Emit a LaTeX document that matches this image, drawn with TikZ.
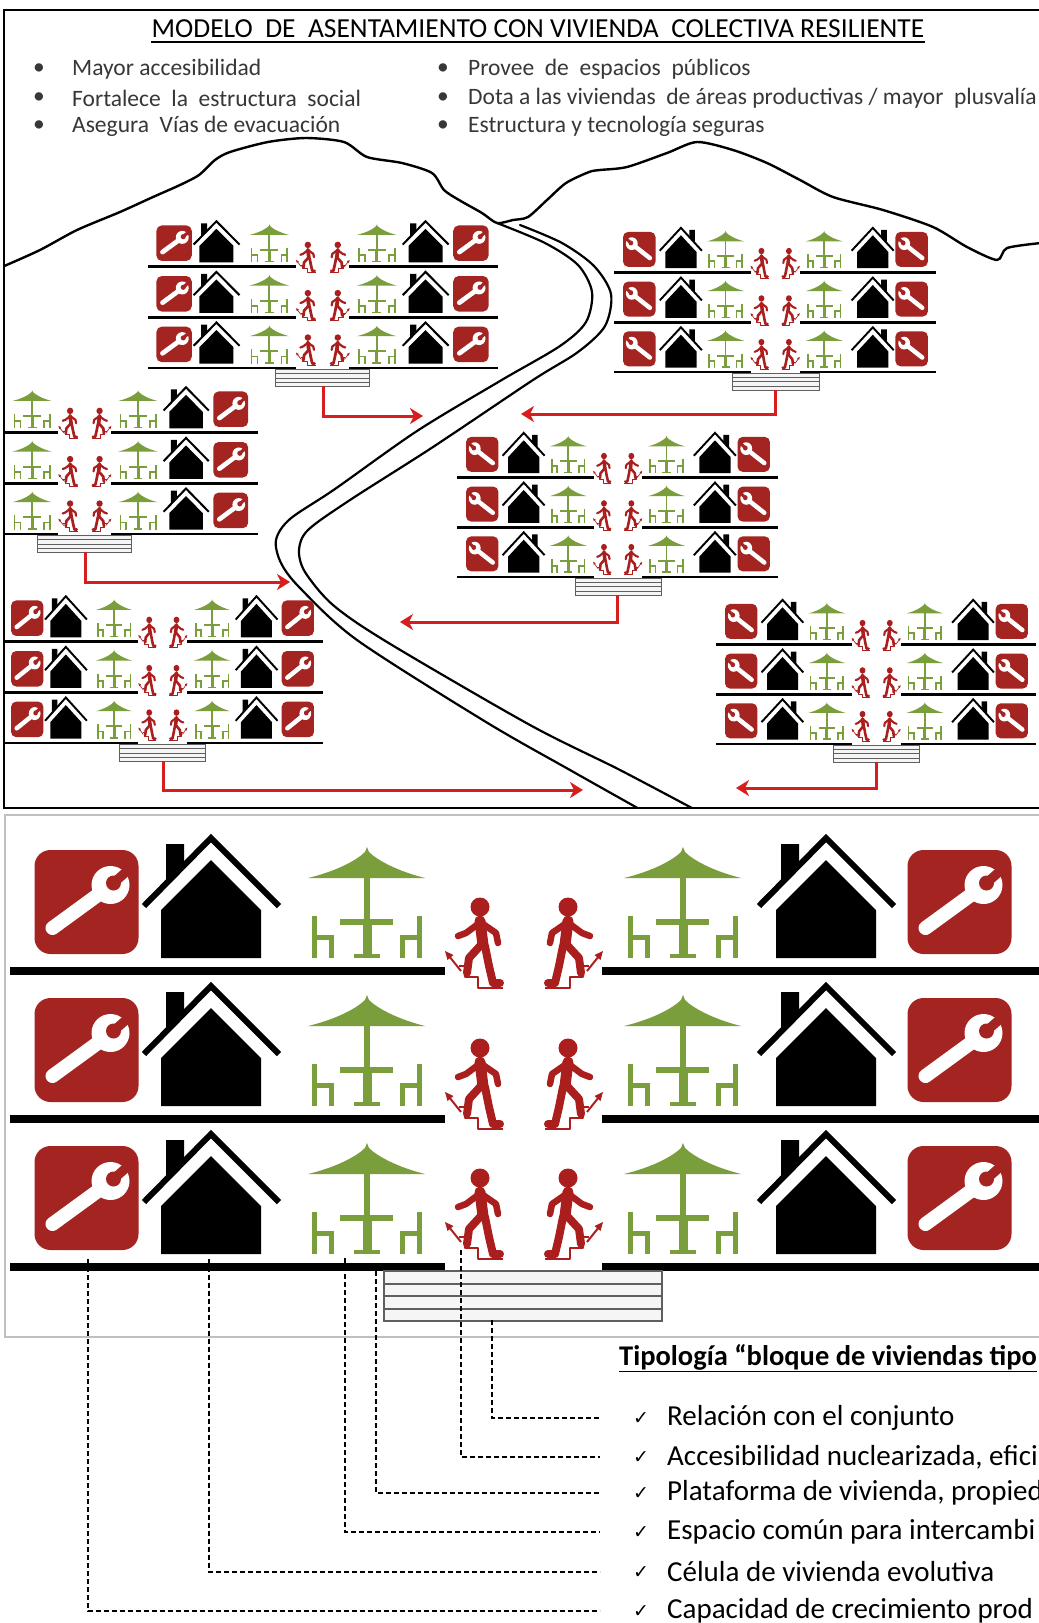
\documentclass[tikz,border=0pt]{standalone}
\usepackage{fontspec}
\setmainfont{Carlito}
\newfontfamily\symfont{DejaVu Sans}
\usetikzlibrary{arrows.meta,calc}

\definecolor{wrenchred}{RGB}{163,36,32}
\definecolor{leafgreen}{RGB}{122,158,60}
\definecolor{walkred}{RGB}{170,30,30}
\definecolor{arrowred}{RGB}{214,30,30}
\definecolor{panelgray}{RGB}{192,192,192}
\definecolor{inkgray}{RGB}{55,55,55}
\definecolor{stairgray}{RGB}{95,95,95}

% stroke scale of the block being drawn
\def\bsc{1}
\tikzset{
  lw/.style={line width=\bsc*#1pt},
  redarrow/.style={draw=arrowred, line width=3pt, -{Stealth[length=13pt,width=16pt,inset=4pt]}},
  leader/.style={draw=black, line width=1.3pt, dash pattern=on 5pt off 3pt},
  bullettext/.style={anchor=west, inner sep=0pt, text=inkgray, font=\fontsize{23.5}{28}\selectfont},
  listtext/.style={anchor=west, inner sep=0pt, font=\fontsize{29}{34}\selectfont},
  checkmark/.style={anchor=west, inner sep=0pt, font=\symfont\fontsize{19}{22}\selectfont},
  ridge/.style={draw=black, line width=2.4pt, line join=round, line cap=round},
  roadedge/.style={draw=black, line width=2.2pt, line cap=round},
}

% workshop badge, centred on the origin
\newcommand\wrenchicon{%
  \fill[wrenchred, rounded corners=\bsc*16pt] (-52,-52) rectangle (52,52);
  \draw[white, lw=14, line cap=round] (-34,26) -- (14,-9);
  \fill[white] (24,-17) circle (19);
  \fill[wrenchred] (27,-19) circle (7.5);
  \fill[wrenchred] (30.1,-15.5) -- (23.9,-22.5) -- (43.4,-39.7) -- (49.6,-32.7) -- cycle;
}
% dwelling, origin under the ridge on the floor
\newcommand\houseicon{%
  \fill (-50,-13) -- (-50,-61) -- (0,-111) -- (50,-61) -- (50,-13) -- cycle;
  \fill (-45,-127) -- (-27,-127) -- (-27,-104) -- (-45,-86) -- cycle;
  \draw[lw=6, line join=miter] (-67,-65) -- (0,-133) -- (68,-65);
}
% terrace with parasol, table and two chairs
\newcommand\umbrellaicon{%
  \fill[leafgreen] (-59,-93) .. controls (-30,-100) and (-10,-111) .. (-2,-119)
     -- (0,-124) -- (2,-119) .. controls (10,-111) and (30,-100) .. (58,-93) -- cycle;
  \fill[leafgreen] (-3,-95) rectangle (3,-50);
  \fill[leafgreen] (-27,-52) rectangle (26,-46);
  \fill[leafgreen] (-4.5,-46) rectangle (4.5,-15);
  \fill[leafgreen] (-13,-17) rectangle (13,-13);
  \fill[leafgreen] (-55,-55) rectangle (-50,-13);
  \fill[leafgreen] (-55,-36) rectangle (-33,-31);
  \fill[leafgreen] (-38,-36) rectangle (-33,-13);
  \fill[leafgreen] (50,-55) rectangle (55,-13);
  \fill[leafgreen] (33,-36) rectangle (55,-31);
  \fill[leafgreen] (33,-36) rectangle (38,-13);
}
% person climbing a stair, origin at the foot of the stair
\newcommand\walkericon{%
  \fill[walkred] (0,-81) circle (9.5);
  \draw[walkred, lw=11, line cap=round] (0,-67) -- (3,-43);
  \draw[walkred, lw=6.5, line cap=round, line join=round] (-2,-64) -- (-14,-55) -- (-22,-52);
  \draw[walkred, lw=6.5, line cap=round, line join=round] (3,-64) -- (16,-55) -- (18,-45);
  \draw[walkred, lw=8, line cap=round, line join=round] (0,-42) -- (-11,-30) -- (-13,-15);
  \draw[walkred, lw=8, line cap=round, line join=round] (5,-42) -- (9,-22) -- (13,-5) -- (20,-5);
  \draw[walkred, lw=2, line join=round] (23,0) -- (-2,0) -- (-2,-11) -- (-15,-11) -- (-15,-22) -- (-21,-22);
  \draw[walkred, lw=2] (-19,-17) -- (-31,-32);
  \fill[walkred] (-35,-37) -- (-26.5,-33) -- (-32.5,-28) -- cycle;
}
% stair pad below the lowest floor
\newcommand\stairpad{%
  \filldraw[fill=gray!8, draw=stairgray, lw=2] (-141,4) rectangle (137,54);
  \foreach \sy in {16.5,29,41.5} \draw[stairgray, lw=2] (-141,\sy) -- (137,\sy);
}
% three-storey block: #1,#2 centre on the lowest floor, #3,#4 scales,
% #5 stroke scale, #6 name of the outlet under the stair pad
\newcommand\housingblock[6]{%
  \begin{scope}[shift={(#1,#2)}, xscale=#3, yscale=#4]
    \def\bsc{#5}%
    \foreach \fy/\wy in {-296/17,-148/10,0/-8}{%
      \begin{scope}[shift={(0,\fy)}]
        \fill (-515,-4) rectangle (-80,4);
        \fill (77,-4) rectangle (516,4);
        \begin{scope}[shift={(-438,-69)}]\wrenchicon\end{scope}
        \begin{scope}[shift={(435,-69)}]\wrenchicon\end{scope}
        \begin{scope}[shift={(-313.5,0)}]\houseicon\end{scope}
        \begin{scope}[shift={(301.5,0)}]\houseicon\end{scope}
        \begin{scope}[shift={(-157.5,0)}]\umbrellaicon\end{scope}
        \begin{scope}[shift={(158.5,0)}]\umbrellaicon\end{scope}
        \begin{scope}[shift={(-44.5,\wy)}]\walkericon\end{scope}
        \begin{scope}[shift={(43.5,\wy)}, xscale=-1]\walkericon\end{scope}
      \end{scope}}
    \stairpad
    \coordinate (#6) at (0,54);
  \end{scope}}

\begin{document}
\begin{tikzpicture}[x=1pt, y=-1pt]
\useasboundingbox (0,0) rectangle (1039,1623);
\clip (0,0) rectangle (1039,1623);
\fill[white] (0,0) rectangle (1039,1623);

%% ---------- settlement plan ----------
\begin{scope}
  \clip (4,10) rectangle (1039,808);
  % hills
  \draw[ridge] plot[smooth, tension=0.45] coordinates {
    (2,267) (40,250) (77,230) (120,212) (153,197) (180,185) (199,175) (215,160)
    (230,152) (268,142) (306,138) (344,142) (367,157) (402,163) (432,173)
    (444,190) (459,200) (482,213) (497,223) (513,220) (528,217) (547,200)
    (566,183) (589,172) (600,170) (627,167) (667,153) (697,142) (733,150)
    (767,163) (800,180) (833,197) (883,210) (933,227) (967,247) (997,260)
    (1007,248) (1041,243)};
  % winding road
  \draw[roadedge] plot[smooth, tension=0.5] coordinates {
    (497,223) (545,243) (578,265) (592,292) (586,322) (560,346) (500,381)
    (417,431) (335,489) (290,519) (276,540) (281,563) (300,588) (357,640)
    (486,722) (570,770) (650,815)};
  \draw[roadedge] plot[smooth, tension=0.5] coordinates {
    (520,225) (562,243) (594,266) (611,294) (605,326) (578,352) (533,380)
    (433,447) (350,500) (308,530) (299,550) (305,572) (333,605) (387,642)
    (530,725) (620,770) (705,815)};

  \housingblock{323}{368}{0.34}{0.342}{0.34}{tl-out}
  \housingblock{775}{372}{-0.312}{0.336}{0.32}{tr-out}
  \housingblock{85}{534}{0.335}{0.342}{0.335}{lm-out}
  \housingblock{617.5}{577}{-0.311}{0.336}{0.32}{cm-out}
  \housingblock{163}{743}{0.31}{0.342}{0.32}{bl-out}
  \housingblock{876}{744}{-0.31}{0.336}{0.32}{br-out}

  % evacuation links towards the road
  \coordinate (tl-in) at (423,416);
  \coordinate (tr-in) at (521,414);
  \coordinate (lm-in) at (290,582);
  \coordinate (cm-in) at (400,622);
  \coordinate (bl-in) at (583,790);
  \coordinate (br-in) at (736,788);
  \draw[redarrow] (tl-out) |- (tl-in);
  \draw[redarrow] (tr-out) |- (tr-in);
  \draw[redarrow] (lm-out) |- (lm-in);
  \draw[redarrow] (cm-out) |- (cm-in);
  \draw[redarrow] (bl-out) |- (bl-in);
  \draw[redarrow] (br-out) |- (br-in);
\end{scope}

% heading and bullets
\node[inner sep=0pt, font=\fontsize{27.5}{32}\selectfont] (title) at (538,29)
  {MODELO\ \ DE\ \ ASENTAMIENTO\ CON\ VIVIENDA\ \ COLECTIVA\ RESILIENTE};
\draw[line width=1.8pt] ([yshift=-4pt]title.base west) -- ([yshift=-4pt]title.base east);

\node[bullettext] (bl1) at (33,69) {•};
\node[bullettext] (bl2) at (33,98) {•};
\node[bullettext] (bl3) at (33,126) {•};
\node[bullettext] (br1) at (437,69) {•};
\node[bullettext] (br2) at (437,98) {•};
\node[bullettext] (br3) at (437,126) {•};
\node[bullettext] (p1) at (72,69) {Mayor accesibilidad};
\node[bullettext] (p2) at (72,98) {Fortalece\ \ la\ \ estructura\ \ social};
\node[bullettext] (p3) at (72,126) {Asegura\ \ Vías de evacuación};
\node[bullettext] (p4) at (468,69) {Provee\ \ de\ \ espacios\ \ públicos};
\node[bullettext] (p5) at (468,98) {Dota a las viviendas\ \ de áreas productivas / mayor\ \ plusvalía};
\node[bullettext] (p6) at (468,126) {Estructura y tecnología seguras};

\draw[line width=2pt] (1045,10) -- (4,10) -- (4,808) -- (1045,808);

%% ---------- enlarged block ----------
\draw[panelgray, line width=1.6pt] (1045,815) -- (5,815) -- (5,1337) -- (1045,1337);
\housingblock{524.5}{1267}{1}{1}{1}{big-out}

\node[anchor=west, inner sep=0pt, font=\bfseries\fontsize{28.5}{33}\selectfont] (typo) at (619,1358)
  {\underline{Tipología “bloque de viviendas tipo}};

\node[checkmark] (c1) at (633,1418) {✓};
\node[checkmark] (c2) at (633,1457) {✓};
\node[checkmark] (c3) at (633,1493) {✓};
\node[checkmark] (c4) at (633,1532) {✓};
\node[checkmark] (c5) at (633,1572) {✓};
\node[checkmark] (c6) at (633,1611) {✓};
\node[listtext] (t1) at (667,1418) {Relación con el conjunto};
\node[listtext] (t2) at (667,1457) {Accesibilidad nuclearizada, efici};
\node[listtext] (t3) at (667,1493) {Plataforma de vivienda, propied};
\node[listtext] (t4) at (667,1532) {Espacio común para intercambi};
\node[listtext] (t5) at (667,1572) {Célula de vivienda evolutiva};
\node[listtext] (t6) at (667,1611) {Capacidad de crecimiento prod};

\coordinate (s1) at (492,1320);
\coordinate (s2) at (461,1250);
\coordinate (s3) at (376,1271);
\coordinate (s4) at (345,1258);
\coordinate (s5) at (209,1259);
\coordinate (s6) at (88,1259);
\draw[leader] (s1) |- ([xshift=-33pt]c1.west);
\draw[leader] (s2) |- ([xshift=-33pt]c2.west);
\draw[leader] (s3) |- ([xshift=-33pt]c3.west);
\draw[leader] (s4) |- ([xshift=-33pt]c4.west);
\draw[leader] (s5) |- ([xshift=-33pt]c5.west);
\draw[leader] (s6) |- ([xshift=-33pt]c6.west);
\end{tikzpicture}
\end{document}
